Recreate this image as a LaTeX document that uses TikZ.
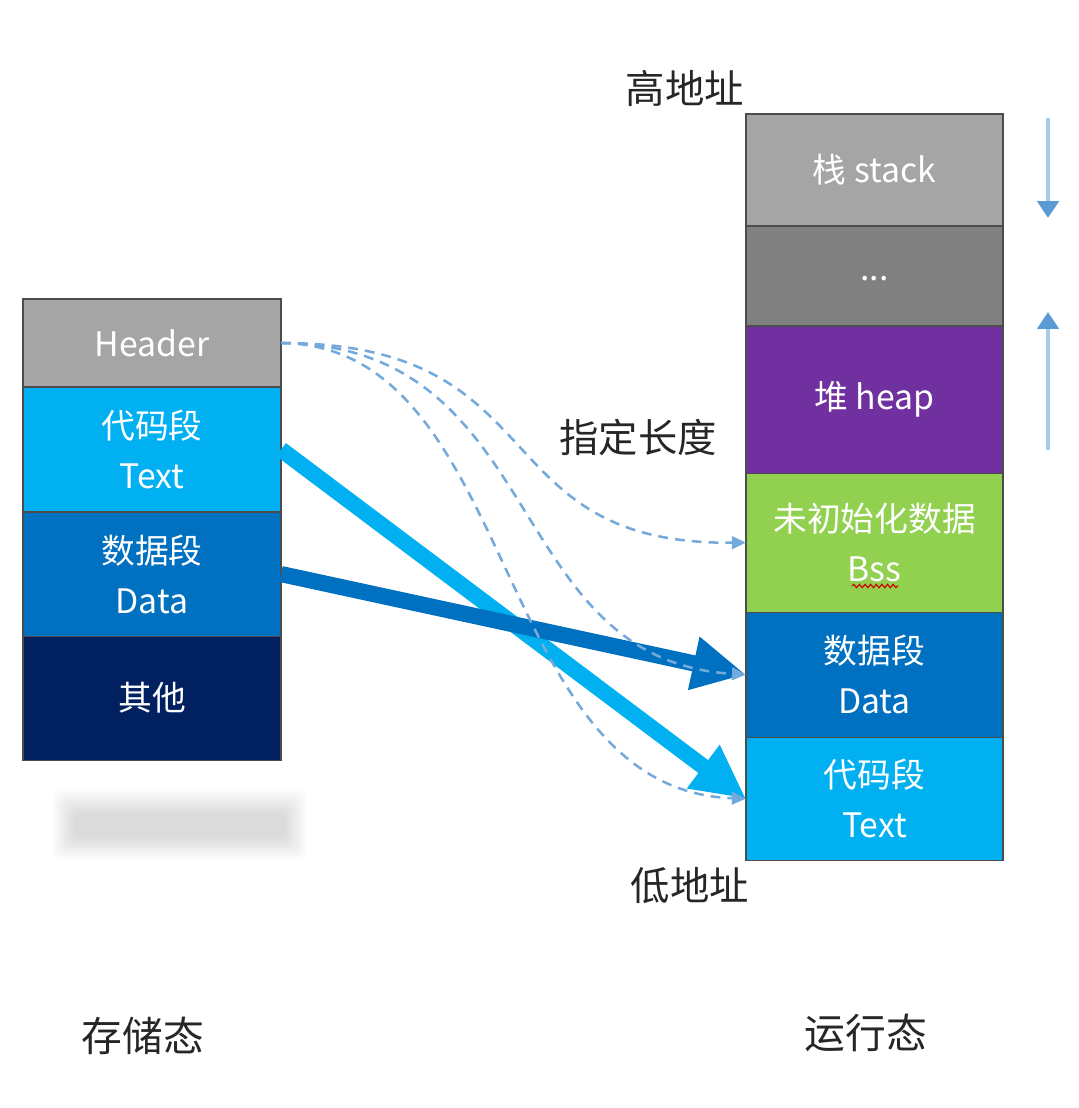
\documentclass[tikz,border=0pt]{standalone}
\usepackage{fontspec}
\setmainfont{Noto Sans CJK SC}
\usetikzlibrary{positioning,arrows.meta,decorations.pathmorphing}

\definecolor{hdrgray}{HTML}{A5A5A5}
\definecolor{dotgray}{HTML}{808080}
\definecolor{textblue}{HTML}{00B0F0}
\definecolor{datablue}{HTML}{0070C0}
\definecolor{navyseg}{HTML}{002060}
\definecolor{heapviolet}{HTML}{7030A0}
\definecolor{bssgreen}{HTML}{92D050}
\definecolor{lineblue}{HTML}{5B9BD5}
\definecolor{paleblue}{HTML}{A9CBEA}

\begin{document}
\begin{tikzpicture}[x=0.025cm, y=-0.025cm,
    seg/.style={draw=black!70, line width=0.8pt, outer sep=0pt, inner sep=0pt,
      minimum width=6.45cm, text=white, align=center,
      font=\fontsize{24}{35.5}\selectfont},
    big/.style={line width=11.5pt, -{Triangle[length=38pt,width=36pt]}},
    hint/.style={draw=lineblue!85, line width=1.8pt, dash pattern=on 7pt off 5pt,
      -{Triangle[length=10pt,width=9pt]}},
    growarrow/.style={draw=paleblue, line width=3.5pt,
      -{Triangle[length=12pt,width=15pt,color=lineblue]}},
    lbl/.style={text=black!85, font=\fontsize{28}{30}\selectfont}]

    \useasboundingbox (0,0) rectangle (1078,1108);

    % storage layout
    \node[seg, fill=hdrgray, minimum height=2.2cm] (hdr) at (152,343) {Header};
    \node[seg, fill=textblue, minimum height=3.125cm, below=0pt of hdr] (ltext) {代码段\\Text};
    \node[seg, fill=datablue, minimum height=3.1cm, below=0pt of ltext] (ldata) {数据段\\Data};
    \node[seg, fill=navyseg, minimum height=3.1cm, below=0pt of ldata] (lother) {其他};

    % blurred patch under it
    \foreach \i in {0,2,...,22}
      \fill[black, opacity=0.012, rounded corners=6pt] (52+\i,790+\i) rectangle (307-\i,860-\i);

    % runtime layout
    \node[seg, fill=hdrgray, minimum width=6.425cm, minimum height=2.8cm] (stack) at (874.5,170) {栈 stack};
    \node[seg, fill=dotgray, minimum width=6.425cm, minimum height=2.5cm, below=0pt of stack] (gap) {\raisebox{-7pt}{...}};
    \node[seg, fill=heapviolet, minimum width=6.425cm, minimum height=3.675cm, below=0pt of gap] (heap) {堆 heap};
    \node[seg, fill=bssgreen, minimum width=6.425cm, minimum height=3.475cm, below=0pt of heap] (rbss) {未初始化数据\\Bss};
    \node[seg, fill=datablue, minimum width=6.425cm, minimum height=3.125cm, below=0pt of rbss] (rdata) {数据段\\Data};
    \node[seg, fill=textblue, minimum width=6.425cm, minimum height=3.075cm, below=0pt of rdata] (rtext) {代码段\\Text};

    \draw[red!80!black, line width=0.8pt, decorate,
      decoration={snake, amplitude=1.2pt, segment length=4pt}] (852,586) -- (898,586);

    % labels
    \node[lbl] (hi) at (685,88) {高地址};
    \node[lbl] (lo) at (690,886) {低地址};
    \node[lbl] (fixlen) at (638,437) {指定长度};
    \node[lbl, font=\fontsize{29}{30}\selectfont] (store) at (143,1036) {存储态};
    \node[lbl, font=\fontsize{29}{30}\selectfont] (run) at (866,1033) {运行态};

    % growth directions
    \coordinate (sdtop) at (1048,118);
    \coordinate (sdbot) at (1048,218);
    \coordinate (hpbot) at (1048,450);
    \coordinate (hptop) at (1048,312);
    \draw[growarrow] (sdtop) -- (sdbot);
    \draw[growarrow] (hpbot) -- (hptop);

    % mapping
    \draw[big, textblue] (ltext.east) -- (rtext.west);
    \draw[big, datablue] (ldata.east) -- (rdata.west);

    \draw[hint] (hdr.east) .. controls (560,343) and (480,545) .. (rbss.west);
    \draw[hint] (hdr.east) .. controls (550,345) and (500,660) .. (rdata.west);
    \draw[hint] (hdr.east) .. controls (520,345) and (490,790) .. (rtext.west);

\end{tikzpicture}
\end{document}
